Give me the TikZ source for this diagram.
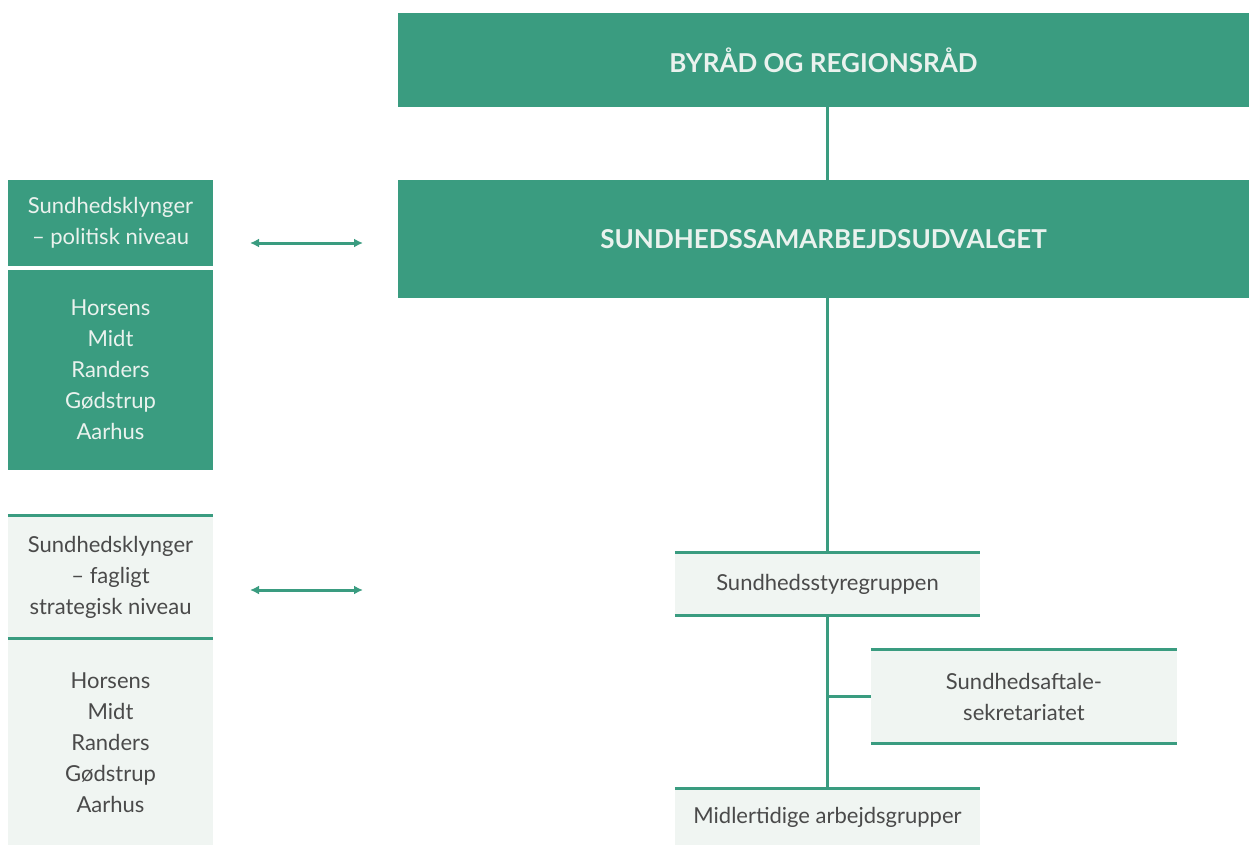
\documentclass[tikz,border=0pt]{standalone}
\usepackage{fontspec}
\usepackage{graphicx}
\setmainfont{Lato}
\usetikzlibrary{arrows.meta}
\definecolor{grn}{HTML}{3A9C80}
\definecolor{pale}{HTML}{F0F5F2}
\definecolor{wtxt}{HTML}{EAF2EE}
\definecolor{gtxt}{HTML}{4A4A4A}
\begin{document}
\begin{tikzpicture}[x=1pt,y=-1pt,
  darkbox/.style={fill=grn,draw=none,inner sep=0pt,text=wtxt,align=center,font=\fontsize{22}{31}\selectfont},
  palebox/.style={fill=pale,draw=none,inner sep=0pt,text=gtxt,align=center,font=\fontsize{22}{31}\selectfont},
  titlebox/.style={darkbox,font=\fontsize{26}{30}\selectfont\bfseries},
  rule/.style={draw=grn,line width=3pt},
  conn/.style={draw=grn,line width=3pt},
  biarrow/.style={draw=grn,line width=3pt,{Latex[length=9pt,width=9pt]}-{Latex[length=9pt,width=9pt]}}
]
\useasboundingbox (0,0) rectangle (1249,845);
% right column
\node[titlebox,minimum width=851pt,minimum height=94pt] (byrad) at (823.5,60) {BYRÅD OG REGIONSRÅD};
\node[titlebox,minimum width=851pt,minimum height=118pt] (ssu) at (823.5,239) {SUNDHEDSSAMARBEJDSUDVALGET};
\node[palebox,minimum width=305pt,minimum height=62pt] (styre) at (827.5,584) {Sundhedsstyregruppen};
\node[palebox,minimum width=306pt,minimum height=93pt] (sekr) at (1024,696.5) {Sundhedsaftale-\\sekretariatet};
\node[palebox,minimum width=305pt,minimum height=56pt] (midl) at (827.5,817) {Midlertidige arbejdsgrupper};
% left column
\node[darkbox,minimum width=205pt,minimum height=86pt] (pol) at (110.5,223) {Sundhedsklynger\\– politisk niveau};
\node[darkbox,minimum width=205pt,minimum height=200pt] (polk) at (110.5,370) {Horsens\\Midt\\Randers\\Gødstrup\\Aarhus};
\node[palebox,minimum width=205pt,minimum height=122pt] (fag) at (110.5,577) {Sundhedsklynger\\– fagligt\\strategisk niveau};
\node[palebox,minimum width=205pt,minimum height=205pt] (fagk) at (110.5,742.5) {Horsens\\Midt\\Randers\\Gødstrup\\Aarhus};
% rules on pale boxes
\draw[rule] (styre.north west) -- (styre.north east);
\draw[rule] (styre.south west) -- (styre.south east);
\draw[rule] (sekr.north west) -- (sekr.north east);
\draw[rule] (sekr.south west) -- (sekr.south east);
\draw[rule] (midl.north west) -- (midl.north east);
\draw[rule] (fag.north west) -- (fag.north east);
\draw[rule] (fag.south west) -- (fag.south east);
% connectors
\draw[conn] (styre.north |- byrad.south) -- (styre.north |- ssu.north);
\draw[conn] (styre.north |- ssu.south) -- (styre.north);
\draw[conn] (styre.south) -- (midl.north);
\draw[conn] (sekr.west) -- (sekr.west -| styre.south);
% arrows
\coordinate (a1l) at (250,243);
\coordinate (a1r) at (363,243);
\coordinate (a2l) at (250,590);
\coordinate (a2r) at (363,590);
\draw[biarrow] (a1l) -- (a1r);
\draw[biarrow] (a2l) -- (a2r);
\end{tikzpicture}
\end{document}
